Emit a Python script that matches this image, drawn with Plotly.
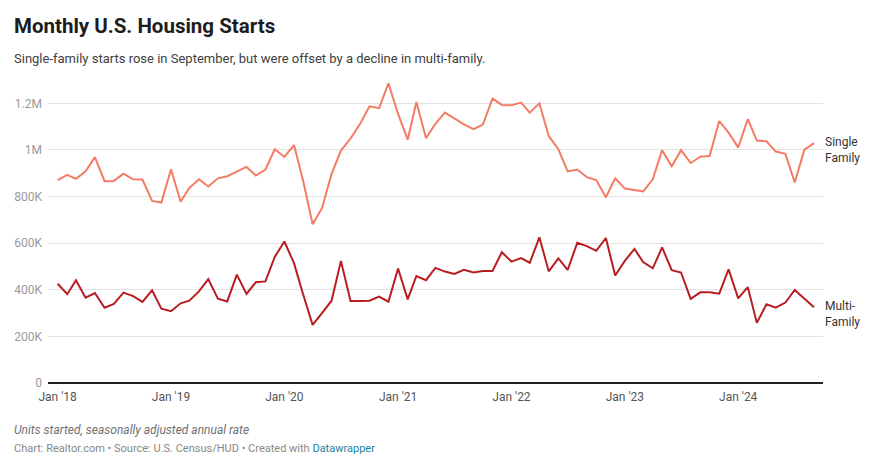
import pandas as pd
import plotly.graph_objects as go

months = pd.date_range("2018-01-01", "2024-09-01", freq="MS")

single_family = [
    870, 893, 876, 908, 969, 866, 867, 898, 874, 873, 781, 774,
    917, 778, 837, 874, 843, 878, 887, 908, 927, 890, 916, 1003,
    970, 1021, 870, 681, 750, 897, 997, 1049, 1112, 1187, 1179, 1286,
    1155, 1044, 1206, 1050, 1112, 1160, 1136, 1110, 1089, 1109, 1220, 1193,
    1192, 1203, 1160, 1200, 1060, 1003, 908, 916, 883, 871, 797, 878,
    834, 828, 822, 874, 999, 930, 999, 944, 971, 974, 1124, 1074,
    1011, 1132, 1040, 1037, 993, 983, 860, 1001, 1029,
]
multi_family = [
    426, 381, 441, 366, 386, 323, 339, 388, 373, 348, 398, 319,
    308, 342, 353, 393, 446, 362, 350, 465, 382, 432, 436, 541,
    607, 514, 382, 249, 300, 353, 524, 352, 352, 353, 371, 349,
    491, 359, 459, 441, 494, 478, 468, 486, 474, 481, 481, 561,
    521, 536, 516, 625, 479, 535, 485, 602, 587, 567, 622, 461,
    524, 575, 519, 492, 582, 484, 474, 361, 389, 389, 383, 488,
    363, 411, 258, 338, 323, 345, 399, 361, 325,
]
single_family = [v * 1000 for v in single_family]
multi_family = [v * 1000 for v in multi_family]

y_tick_vals = [0, 200000, 400000, 600000, 800000, 1000000, 1200000]
y_tick_text = ["0", "200K", "400K", "600K", "800K", "1M", "1.2M"]
x_tick_vals = ["2018-01-01", "2019-01-01", "2020-01-01", "2021-01-01",
               "2022-01-01", "2023-01-01", "2024-01-01"]
x_tick_text = ["Jan '18", "Jan '19", "Jan '20", "Jan '21", "Jan '22", "Jan '23", "Jan '24"]

SF_COLOR = "#f47c64"
MF_COLOR = "#b81d22"
FONT = "Roboto"

fig = go.Figure()
fig.add_trace(go.Scatter(x=months, y=single_family, mode="lines", name="Single Family",
                         line=dict(color=SF_COLOR, width=2), hoverinfo="skip"))
fig.add_trace(go.Scatter(x=months, y=multi_family, mode="lines", name="Multi-Family",
                         line=dict(color=MF_COLOR, width=2), hoverinfo="skip"))

# page body has an 8px margin; compensate so the layout matches the 874x463 view
OFF = 8
W, H = 874 - OFF, 463 - OFF
PLOT_LEFT, PLOT_RIGHT, PLOT_TOP, PLOT_BOTTOM = 48, 823, 80, 383  # in view pixels
L = PLOT_LEFT - OFF
T = PLOT_TOP - OFF
R = W - (PLOT_RIGHT - OFF)
B = H - (PLOT_BOTTOM - OFF)
pw, ph = PLOT_RIGHT - PLOT_LEFT, PLOT_BOTTOM - PLOT_TOP


def px_to_paper_x(px):
    return (px - PLOT_LEFT) / pw


def px_to_paper_y(py):
    return (PLOT_BOTTOM - py) / ph


annotations = [
    dict(text="<b>Monthly U.S. Housing Starts</b>", x=px_to_paper_x(12), y=px_to_paper_y(26),
         xanchor="left", yanchor="middle", font=dict(size=20.5, color="#1d1d1d", family=FONT)),
    dict(text="Single-family starts rose in September, but were offset by a decline in multi-family.",
         x=px_to_paper_x(12), y=px_to_paper_y(59), xanchor="left", yanchor="middle",
         font=dict(size=13, color="#404040", family=FONT)),
    dict(text="<i>Units started, seasonally adjusted annual rate</i>",
         x=px_to_paper_x(12), y=px_to_paper_y(430), xanchor="left", yanchor="middle",
         font=dict(size=12, color="#707070", family=FONT)),
    dict(text="Chart: Realtor.com • Source: U.S. Census/HUD • Created with "
              "<span style='color:#1d81a2'>Datawrapper</span>",
         x=px_to_paper_x(12), y=px_to_paper_y(448), xanchor="left", yanchor="middle",
         font=dict(size=11, color="#888888", family=FONT)),
    dict(text="Single<br>Family", x=1, y=px_to_paper_y(150), xanchor="left", yanchor="middle",
         xshift=0, align="left", font=dict(size=12, color="#333333", family=FONT)),
    dict(text="Multi-<br>Family", x=1, y=px_to_paper_y(314), xanchor="left", yanchor="middle",
         xshift=0, align="left", font=dict(size=12, color="#333333", family=FONT)),
]
for a in annotations:
    a.update(xref="paper", yref="paper", showarrow=False)

fig.update_layout(
    width=W, height=H,
    margin=dict(l=L, r=R, t=T, b=B),
    paper_bgcolor="white", plot_bgcolor="white",
    showlegend=False,
    font=dict(family=FONT),
    annotations=annotations,
    xaxis=dict(
        type="date", range=["2017-12-01", "2024-09-30"],
        tickvals=x_tick_vals, ticktext=x_tick_text, automargin=False,
        showgrid=False, zeroline=False, showline=False, ticks="", ticklabelstandoff=5,
        tickfont=dict(size=12, color="#555555", family=FONT),
    ),
    yaxis=dict(
        range=[0, 1300000], tickvals=y_tick_vals, ticktext=y_tick_text, automargin=False,
        showgrid=True, gridcolor="#e3e3e3", gridwidth=1,
        zeroline=True, zerolinecolor="#222222", zerolinewidth=1.5,
        showline=False, ticks="", ticklabelstandoff=5,
        tickfont=dict(size=12, color="#9a9a9a", family=FONT),
    ),
)

fig.write_html("out.html")
